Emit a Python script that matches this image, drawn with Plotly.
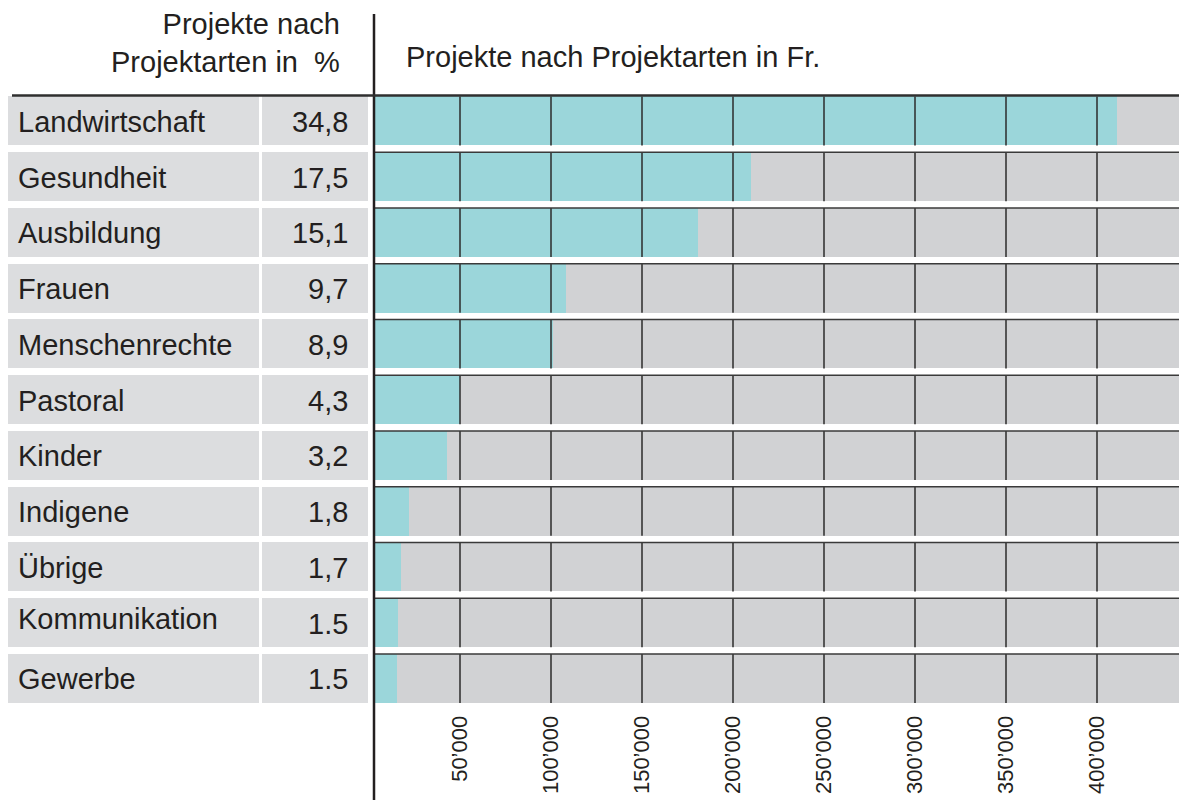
import plotly.graph_objects as go

# ---------------- data ----------------
categories = ["Landwirtschaft", "Gesundheit", "Ausbildung", "Frauen", "Menschenrechte",
              "Pastoral", "Kinder", "Indigene", "Übrige", "Kommunikation", "Gewerbe"]
percent_labels = ["34,8", "17,5", "15,1", "9,7", "8,9", "4,3", "3,2", "1,8", "1,7", "1.5", "1.5"]
amounts_fr = [411000, 210000, 181000, 108000, 101000, 50000, 43000, 22000, 17600, 15800, 15200]
tick_values = [50000, 100000, 150000, 200000, 250000, 300000, 350000, 400000]
tick_labels = ["50’000", "100’000", "150’000", "200’000", "250’000", "300’000", "350’000", "400’000"]
title_left = "Projekte nach<br>Projektarten in\u00a0 %"
title_right = "Projekte nach Projektarten in Fr."

# ---------------- styling / layout constants ----------------
W, H = 1179, 800
FONT = "Liberation Sans, Arial, Helvetica, sans-serif"
TXT = "#231f20"
TEAL = "#9bd6da"
BAR_BG = "#d1d2d4"
CELL_BG = "#dcdddf"
LINE = "#2b2b2b"
FS = 29

zero_px = 369.0          # pixel of value 0
px_per_unit = 91.0 / 50000.0
plot_left_px = 374.0
x_lo = (plot_left_px - zero_px) / px_per_unit
x_hi = (W - zero_px) / px_per_unit

row0_center = 121.0
pitch = 55.75
n = len(categories)
y_top_px = row0_center - 0.5 * pitch
y_bot_px = row0_center + (n - 0.5) * pitch
ydom = [1 - y_bot_px / H, 1 - y_top_px / H]
bw = 0.88

def px(x):
    return x / W

def py(y):
    return 1 - y / H

ypos = list(range(n))

fig = go.Figure()

# right panel background rows
fig.add_trace(go.Bar(x=[x_hi] * n, y=ypos, orientation="h", width=bw,
                     marker=dict(color=BAR_BG, line=dict(width=0)),
                     hoverinfo="skip", showlegend=False))
# teal bars
fig.add_trace(go.Bar(x=amounts_fr, y=ypos, orientation="h", width=bw,
                     marker=dict(color=TEAL, line=dict(width=0)),
                     showlegend=False))

# per-row grid lines
gx, gy = [], []
for t in tick_values:
    for i in ypos:
        gx += [t, t, None]
        gy += [i - bw / 2, i + bw / 2, None]
fig.add_trace(go.Scatter(x=gx, y=gy, mode="lines", line=dict(color=LINE, width=1.5),
                         hoverinfo="skip", showlegend=False))
# row top lines (right panel)
rx, ry = [], []
for i in ypos[1:]:
    rx += [x_lo, x_hi, None]
    ry += [i - bw / 2, i - bw / 2, None]
fig.add_trace(go.Scatter(x=rx, y=ry, mode="lines", line=dict(color="#3a3a3a", width=1.6),
                         hoverinfo="skip", showlegend=False))

# left table cells
fig.add_trace(go.Bar(x=[1] * n, y=ypos, orientation="h", width=bw, xaxis="x2", yaxis="y",
                     marker=dict(color=CELL_BG, line=dict(width=0)),
                     hoverinfo="skip", showlegend=False))
fig.add_trace(go.Bar(x=[1] * n, y=ypos, orientation="h", width=bw, xaxis="x3", yaxis="y",
                     marker=dict(color=CELL_BG, line=dict(width=0)),
                     hoverinfo="skip", showlegend=False))

annotations = []
for i, (c, p) in enumerate(zip(categories, percent_labels)):
    annotations.append(dict(x=px(16), y=i, xref="paper", yref="y", text=c, showarrow=False,
                            xanchor="left", yanchor="middle",
                            yshift=(4 if c == "Kommunikation" else -1),
                            font=dict(family=FONT, size=FS, color=TXT)))
    annotations.append(dict(x=px(350), y=i, xref="paper", yref="y", text=p, showarrow=False,
                            xanchor="right", yanchor="middle", yshift=-1,
                            font=dict(family=FONT, size=FS, color=TXT)))
annotations.append(dict(x=px(342), y=py(43), xref="paper", yref="paper", text=title_left,
                        showarrow=False, xanchor="right", yanchor="middle", align="right",
                        font=dict(family=FONT, size=FS, color=TXT)))
annotations.append(dict(x=px(404), y=py(57), xref="paper", yref="paper", text=title_right,
                        showarrow=False, xanchor="left", yanchor="middle",
                        font=dict(family=FONT, size=FS, color=TXT)))

shapes = [
    dict(type="line", xref="paper", yref="paper", x0=px(plot_left_px), x1=px(plot_left_px),
         y0=0, y1=py(14), line=dict(color=TXT, width=2.5), layer="above"),
    dict(type="line", xref="paper", yref="paper", x0=px(12), x1=1,
         y0=py(95.5), y1=py(95.5), line=dict(color="#2f2f2f", width=2.5), layer="above"),
]

fig.update_layout(
    width=W, height=H,
    margin=dict(l=0, r=0, t=0, b=0),
    paper_bgcolor="white", plot_bgcolor="white",
    barmode="overlay", bargap=0,
    showlegend=False,
    font=dict(family=FONT, color=TXT),
    xaxis=dict(domain=[px(plot_left_px), 1], range=[x_lo, x_hi], showgrid=False,
               zeroline=False, showline=False, tickmode="array", tickvals=tick_values,
               ticktext=tick_labels, tickangle=-90, ticks="", ticklabelstandoff=4,
               tickfont=dict(family=FONT, size=22, color=TXT), fixedrange=True),
    xaxis2=dict(domain=[px(8), px(259)], range=[0, 1], visible=False, anchor="y"),
    xaxis3=dict(domain=[px(262), px(368)], range=[0, 1], visible=False, anchor="y"),
    yaxis=dict(domain=ydom, range=[n - 0.5, -0.5], showgrid=False, zeroline=False,
               showticklabels=False, showline=False, ticks=""),
    annotations=annotations,
    shapes=shapes,
)

fig.write_html("out.html")
